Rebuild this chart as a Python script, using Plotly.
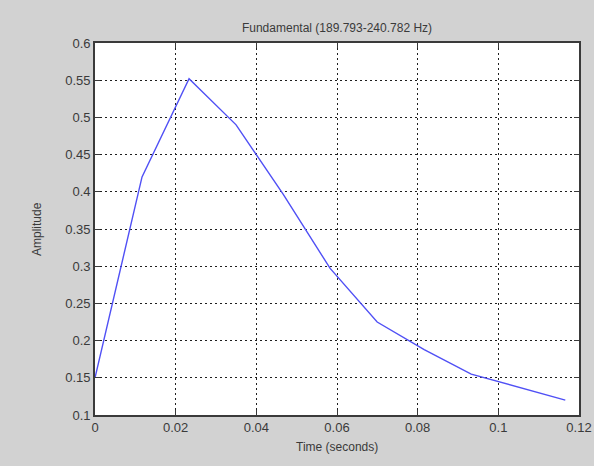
import plotly.graph_objects as go

time_s = [0.0, 0.01166, 0.02332, 0.03498, 0.04664, 0.0583, 0.06996, 0.08162, 0.09328, 0.10494, 0.1166]
amplitude = [0.15, 0.42, 0.552, 0.49, 0.397, 0.297, 0.225, 0.188, 0.155, 0.137, 0.12]

x_ticks = [0, 0.02, 0.04, 0.06, 0.08, 0.1, 0.12]
x_tick_labels = ["0", "0.02", "0.04", "0.06", "0.08", "0.1", "0.12"]
y_ticks = [0.1, 0.15, 0.2, 0.25, 0.3, 0.35, 0.4, 0.45, 0.5, 0.55, 0.6]
y_tick_labels = ["0.1", "0.15", "0.2", "0.25", "0.3", "0.35", "0.4", "0.45", "0.5", "0.55", "0.6"]

title_text = "Fundamental (189.793-240.782 Hz)"
x_title = "Time (seconds)"
y_title = "Amplitude"

FONT = "Liberation Sans, Arial"
TXT = "#3a3a3a"
PAPER = "#d2d2d2"

fig = go.Figure()
fig.add_trace(go.Scatter(x=time_s, y=amplitude, mode="lines",
                         line=dict(color="rgb(80,80,245)", width=1.4),
                         showlegend=False, hoverinfo="skip"))

axis_common = dict(
    automargin=False,
    showline=True, linecolor="#3a3a3a", linewidth=1.6, mirror="ticks",
    ticks="inside", ticklen=5, tickcolor="#3a3a3a", tickwidth=1.2,
    showgrid=True, gridcolor="#1e1e1e", griddash="2px,3px", gridwidth=1.4,
    zeroline=False, tickfont=dict(family=FONT, size=13, color=TXT),
)

fig.update_layout(
    width=594, height=466,
    margin=dict(l=95, r=15, t=43, b=51),
    paper_bgcolor=PAPER, plot_bgcolor="white",
    font=dict(family=FONT, size=13, color=TXT),
    title=dict(text=title_text, x=(95 + 579) / 2 / 594, xanchor="center",
               y=1 - 28 / 466, yanchor="middle",
               font=dict(size=12, color=TXT)),
    xaxis=dict(range=[0, 0.12], tickvals=x_ticks, ticktext=x_tick_labels, **axis_common),
    yaxis=dict(range=[0.1, 0.6], tickvals=y_ticks, ticktext=y_tick_labels, **axis_common),
    annotations=[
        dict(text=x_title, xref="paper", yref="paper", x=0.5, y=-32 / 372,
             xanchor="center", yanchor="middle", showarrow=False,
             font=dict(family=FONT, size=12, color=TXT)),
        dict(text=y_title, xref="paper", yref="paper", x=-58 / 484, y=0.5,
             xanchor="center", yanchor="middle", showarrow=False, textangle=-90,
             font=dict(family=FONT, size=12, color=TXT)),
    ],
)

fig.write_html("out.html",
               config={"displayModeBar": False},
               post_script="document.body.style.margin='0px';"
                           "document.body.style.background='" + PAPER + "';")
